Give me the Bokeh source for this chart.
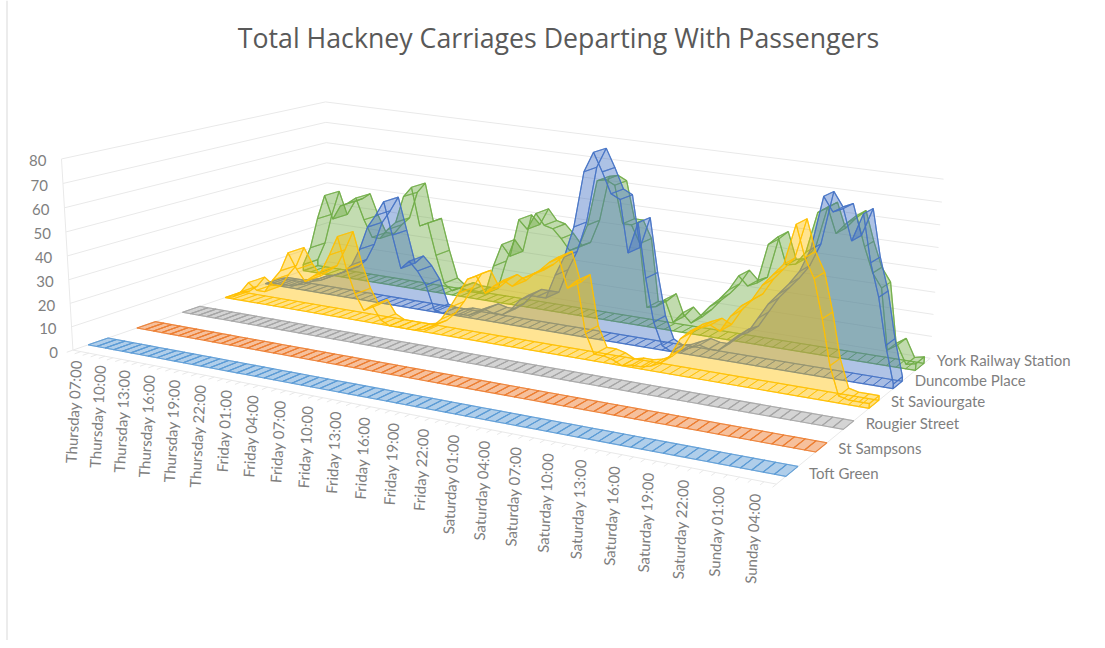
import numpy as np
from bokeh.plotting import figure
from bokeh.models import Range1d
from bokeh.core.properties import value
from bokeh.embed import file_html
from bokeh.resources import INLINE

series_names = ["Toft Green", "St Sampsons", "Rougier Street", "St Saviourgate", "Duncombe Place", "York Railway Station"]
series_colors = ["#5B9BD5", "#ED7D31", "#A5A5A5", "#FFC000", "#4472C4", "#70AD47"]

tick_labels = ["Thursday 07:00", "Thursday 10:00", "Thursday 13:00", "Thursday 16:00", "Thursday 19:00", "Thursday 22:00",
               "Friday 01:00", "Friday 04:00", "Friday 07:00", "Friday 10:00", "Friday 13:00", "Friday 16:00", "Friday 19:00", "Friday 22:00",
               "Saturday 01:00", "Saturday 04:00", "Saturday 07:00", "Saturday 10:00", "Saturday 13:00", "Saturday 16:00", "Saturday 19:00", "Saturday 22:00",
               "Sunday 01:00", "Sunday 04:00"]
value_ticks = [0, 10, 20, 30, 40, 50, 60, 70, 80]

toft_green = [0, 0, 0, 0, 0, 0, 0, 0, 0, 0, 0, 0, 0, 0, 0, 0, 0, 0, 0, 0, 0, 0, 0, 0,
              0, 0, 0, 0, 0, 0, 0, 0, 0, 0, 0, 0, 0, 0, 0, 0, 0, 0, 0, 0, 0, 0, 0, 0,
              0, 0, 0, 0, 0, 0, 0, 0, 0, 0, 0, 0, 0, 0, 0, 0, 0, 0, 0, 0, 0, 0, 0, 0]
st_sampsons = [0, 0, 0, 0, 0, 0, 0, 0, 0, 0, 0, 0, 0, 0, 0, 0, 0, 0, 0, 0, 0, 0, 0, 0,
               0, 0, 0, 0, 0, 0, 0, 0, 0, 0, 0, 0, 0, 0, 0, 0, 0, 0, 0, 0, 0, 0, 0, 0,
               0, 0, 0, 0, 0, 0, 0, 0, 0, 0, 0, 0, 0, 0, 0, 0, 0, 0, 0, 0, 0, 0, 0, 0]
rougier_street = [0, 0, 0, 0, 0, 0, 0, 0, 0, 0, 0, 0, 0, 0, 0, 0, 0, 0, 0, 0, 0, 0, 0, 0,
                  0, 0, 0, 0, 0, 0, 0, 0, 0, 0, 0, 0, 0, 0, 0, 0, 0, 0, 0, 0, 0, 0, 0, 0,
                  0, 0, 0, 0, 0, 0, 0, 0, 0, 0, 0, 0, 0, 0, 0, 0, 0, 0, 0, 0, 0, 0, 0, 0]
st_saviourgate = [0, 1, 4, 9, 6, 6, 12, 17, 26, 19, 14, 17, 20, 28, 37, 23, 12, 5, 8, 2, 0, 0, 0, 0,
                  1, 3, 7, 13, 20, 27, 29, 22, 26, 29, 27, 31, 33, 36, 40, 43, 30, 34, 12, 3, 3, 2, 0, 1,
                  1, 2, 4, 8, 16, 20, 22, 24, 22, 29, 34, 37, 44, 49, 54, 71, 58, 50, 34, 15, 3, 2, 2, 2]
duncombe_place = [0, 1, 1, 1, 2, 3, 5, 6, 8, 10, 12, 16, 24, 35, 41, 48, 33, 18, 22, 18, 12, 1, 0, 0,
                  1, 1, 3, 5, 4, 4, 7, 12, 15, 15, 15, 26, 35, 49, 74, 83, 75, 66, 64, 41, 55, 31, 12, 2,
                  0, 1, 3, 5, 4, 4, 8, 12, 14, 21, 28, 33, 38, 44, 54, 77, 71, 73, 60, 72, 52, 38, 18, 2]
york_station = [3, 12, 27, 39, 28, 35, 37, 40, 30, 22, 22, 27, 31, 44, 49, 31, 33, 18, 5, 2, 4, 3, 3, 3,
                17, 28, 23, 41, 37, 45, 40, 39, 35, 30, 32, 43, 64, 65, 63, 46, 46, 38, 9, 10, 14, 4, 9, 5,
                9, 14, 18, 23, 30, 26, 28, 46, 50, 38, 39, 45, 63, 66, 55, 60, 64, 51, 40, 34, 7, 10, 2, 3]
series_values = [toft_green, st_sampsons, rougier_street, st_saviourgate, duncombe_place, york_station]

# camera: a projective map of the chart box (hour, depth, value) onto the page
box = [(0, 0, 0), (1, 0, 0), (1, 1, 0), (0, 1, 0), (0, 0, 1), (1, 1, 1), (0, 1, 1)]
page = [(75, 352), (773, 488), (932, 350), (326, 263), (61, 152), (943, 183), (325, 103)]
rows = []
for (a, b, c), (sx, sy) in zip(box, page):
    rows.append([a, b, c, 1, 0, 0, 0, 0, -sx * a, -sx * b, -sx * c, -sx])
    rows.append([0, 0, 0, 0, a, b, c, 1, -sy * a, -sy * b, -sy * c, -sy])
CAM = np.linalg.svd(np.array(rows, float))[2][-1].reshape(3, 4)

N = len(york_station)
VMAX = value_ticks[-1]


def proj(t, d, v):
    t, d, v = np.broadcast_arrays(np.asarray(t, float), np.asarray(d, float), np.asarray(v, float))
    q = np.stack([t / (N - 1), d, v / VMAX, np.ones_like(t, float)])
    r = CAM @ q.reshape(4, -1)
    return (r[0] / r[2]).reshape(t.shape), (r[1] / r[2]).reshape(t.shape)


def axis_hour(t):
    # the category axis foreshortens slightly more than the floor corners alone give
    s = np.asarray(t, float) / (N - 1)
    return (N - 1) * s * 0.93 / (1 - 0.07 * s)


W, H = 1097, 640
p = figure(width=W, height=H, x_range=Range1d(0, W), y_range=Range1d(H, 0),
           output_backend="svg", toolbar_location=None, min_border=0, outline_line_color=None,
           background_fill_color="white", border_fill_color="white")
p.axis.visible = False
p.grid.visible = False

GRID = "#E9E9E9"
wall = dict(line_color=GRID, line_width=1.0)
p.line([6.5, 6.5], [0, H], line_color="#D9D9D9", line_width=1.0)
for v in value_ticks:
    a = proj([0, 0], [0, 1], [v, v])
    b = proj([0, N - 1], [1, 1], [v, v])
    p.line(a[0], a[1], **wall)
    p.line(b[0], b[1], **wall)
e = proj([0, 0], [0, 0], [0, VMAX])
p.line(e[0], e[1], **wall)
e = proj([0, N - 1, N - 1], [0, 0, 1], [0, 0, 0])
p.line(e[0], e[1], **wall)
hh = axis_hour(np.arange(N))
tx = [list(proj([t, t], [0, -0.02], [0, 0])[0]) for t in hh]
ty = [list(proj([t, t], [0, -0.02], [0, 0])[1]) for t in hh]
p.multi_line(tx, ty, **wall)
S = len(series_values)


def poly(ts, ds, vs):
    x, y = proj(ts, ds, vs)
    return list(x), list(y)


for i in range(S - 1, -1, -1):
    vals = np.array(series_values[i], float)
    col = series_colors[i]
    df, db = (i + 0.3) / S, (i + 0.7) / S
    hrs = np.arange(N, dtype=float)
    faces = dict(fill_color=col, line_color=col)
    A = 0.24
    # floor strip
    fx, fy = [], []
    for k in range(N - 1):
        x, y = poly([k, k + 1, k + 1, k], [df, df, db, db], [0, 0, 0, 0])
        fx.append(x); fy.append(y)
    p.patches(fx, fy, fill_alpha=0.3, line_alpha=0.7, line_width=1.0, **faces)
    # rear face
    x, y = poly(np.r_[hrs, N - 1, 0], np.full(N + 2, db), np.r_[vals, 0, 0])
    if vals.max() > 0:
        p.patch(x, y, fill_alpha=A, line_alpha=0.8, line_width=1.2, **faces)
    # top ribbon
    rbx, rby = [], []
    for k in range(N - 1):
        x, y = poly([k, k + 1, k + 1, k], [df, df, db, db], [vals[k], vals[k + 1], vals[k + 1], vals[k]])
        rbx.append(x); rby.append(y)
    p.patches(rbx, rby, fill_alpha=0.26, line_alpha=0.7, line_width=1.1, **faces)
    # end caps
    if vals.max() > 0:
        for k in (0, N - 1):
            x, y = poly([k, k, k, k], [df, db, db, df], [0, 0, vals[k], vals[k]])
            p.patch(x, y, fill_alpha=A, line_alpha=0.8, line_width=1.2, **faces)
        # front face
        x, y = poly(np.r_[hrs, N - 1, 0], np.full(N + 2, df), np.r_[vals, 0, 0])
        p.patch(x, y, fill_alpha=A, line_alpha=0.85, line_width=1.2, **faces)

FONT = value("Lato")
TXT = "#7F7F7F"
vx, vy = proj(np.zeros(len(value_ticks)), np.zeros(len(value_ticks)), value_ticks)
p.text(vx - 15, vy + 2, text=[str(v) for v in value_ticks], text_font=FONT, text_font_size="15px",
       text_color=TXT, text_align="right", text_baseline="middle")
idx = np.arange(len(tick_labels)) * 3
lx, ly = proj(axis_hour(idx), np.zeros(len(idx)), np.zeros(len(idx)))
p.text(lx + 3, ly + 10 + 4 * idx / (N - 1), text=tick_labels, text_font=FONT, text_font_size="15px", angle=np.radians(87),
       text_color=TXT, text_align="right", text_baseline="middle")
order = np.arange(S)
sx, sy = proj(np.full(S, N - 1), (order + 0.5) / S, np.zeros(S))
p.text(sx + 17, sy + 2 - 1.8 * order, text=series_names, text_font=FONT, text_font_size="15px",
       text_color=TXT, text_align="left", text_baseline="middle")
p.text([558], [37], text=["Total Hackney Carriages Departing With Passengers"], text_font=value("Open Sans"),
       text_font_size="26.7px", text_color="#595959", text_align="center", text_baseline="middle")

open("out.html", "w").write(file_html(p, INLINE))
